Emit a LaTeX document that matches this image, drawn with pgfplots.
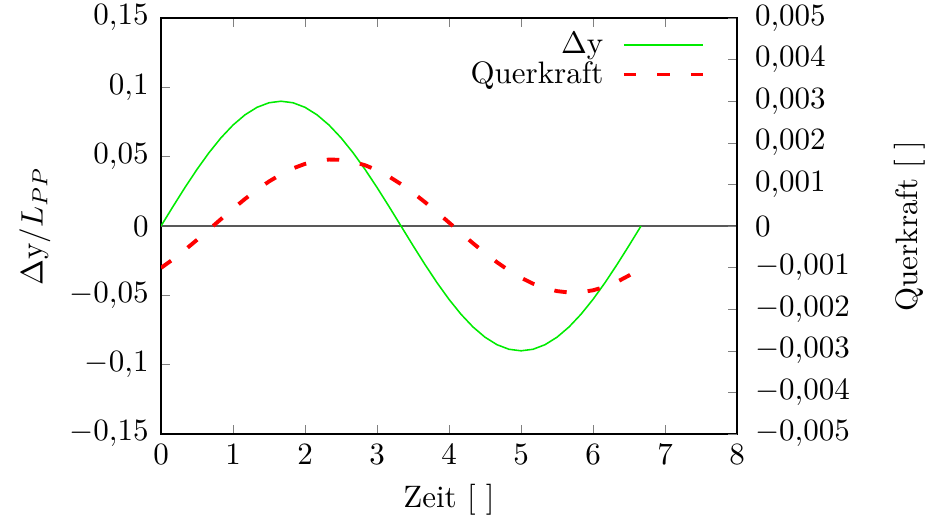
\documentclass[border=0pt]{standalone}
\usepackage{pgfplots}
\pgfplotsset{compat=1.18}
\begin{document}
\begin{tikzpicture}
\pgfplotsset{
  every axis/.append style={
    width=185.81pt, height=134.19pt, scale only axis,
    xmin=0, xmax=8,
    major tick length=3pt,
    tick align=inside,
    /pgf/number format/use comma,
    /pgf/number format/fixed,
    scaled y ticks=false,
  },
  leg/.style={legend image code/.code={\draw[##1] (0cm,0cm) -- (0.9cm,0cm);}},
}
\begin{axis}[
  at={(0,0)}, anchor=south west,
  ymin=-0.15, ymax=0.15,
  ytick={-0.15,-0.1,-0.05,0,0.05,0.1,0.15},
  /pgf/number format/precision=2,
  xtick={0,1,...,8},
  ytick pos=left,
  xtick pos=both,
  xlabel={Zeit [ ]},
  ylabel={$\Delta$y$/L_{PP}$},
  xlabel style={at={(axis description cs:0.5,-0.159)}, anchor=center},
  ylabel style={at={(axis description cs:-0.219,0.5)}, anchor=center, rotate=0},
  yticklabel style={xshift=-0.5pt},
]
\addplot[black!65, line width=0.35pt, forget plot] coordinates {(0,0) (8,0)};
\addplot[color={rgb,255:red,0;green,235;blue,0}, line width=0.5pt] table {
t y
0 0
0.16667 0.01408
0.33333 0.02781
0.5 0.04086
0.66667 0.05290
0.83333 0.06364
1 0.07281
1.16667 0.08019
1.33333 0.08560
1.5 0.08889
1.66667 0.09
1.83333 0.08889
2 0.08560
2.16667 0.08019
2.33333 0.07281
2.5 0.06364
2.66667 0.05290
2.83333 0.04086
3 0.02781
3.16667 0.01408
3.33333 0
3.5 -0.01408
3.66667 -0.02781
3.83333 -0.04086
4 -0.05290
4.16667 -0.06364
4.33333 -0.07281
4.5 -0.08019
4.66667 -0.08560
4.83333 -0.08889
5 -0.09
5.16667 -0.08889
5.33333 -0.08560
5.5 -0.08019
5.66667 -0.07281
5.83333 -0.06364
6 -0.05290
6.16667 -0.04086
6.33333 -0.02781
6.5 -0.01408
6.66667 0
};
\end{axis}
\begin{axis}[
  at={(0,0)}, anchor=south west,
  ymin=-0.005, ymax=0.005,
  ytick={-0.005,-0.004,-0.003,-0.002,-0.001,0,0.001,0.002,0.003,0.004,0.005},
  /pgf/number format/precision=3,
  axis y line*=right,
  axis x line=none,
  yticklabel style={xshift=2.3pt},
  ylabel={Querkraft [ ]},
  ylabel style={at={(axis description cs:1.30,0.5)}, anchor=center, rotate=0},
  legend style={at={(axis description cs:0.962,0.997)}, anchor=north east, draw=none, fill=none,
    legend cell align=right, row sep=-3pt, column sep=4pt},
  legend plot pos=right,
  leg,
]
\addlegendimage{color={rgb,255:red,0;green,235;blue,0}, line width=0.5pt}
\addlegendentry{$\Delta$y}
\addplot[red, line width=1.25pt, dash pattern=on 4pt off 6.8pt] table {
t q
0 -0.001007
0.16667 -0.0008
0.33333 -0.000573
0.5 -0.000333
0.66667 -0.0000837
0.83333 0.000167
1 0.000414
1.16667 0.000651
1.33333 0.000871
1.5 0.001071
1.66667 0.001243
1.83333 0.001386
2 0.001494
2.16667 0.001565
2.33333 0.001598
2.5 0.001591
2.66667 0.001545
2.83333 0.001462
3 0.001342
3.16667 0.001189
3.33333 0.001007
3.5 0.0008
3.66667 0.000573
3.83333 0.000333
4 0.0000837
4.16667 -0.000167
4.33333 -0.000414
4.5 -0.000651
4.66667 -0.000871
4.83333 -0.001071
5 -0.001243
5.16667 -0.001386
5.33333 -0.001494
5.5 -0.001565
5.66667 -0.001598
5.83333 -0.001591
6 -0.001545
6.16667 -0.001462
6.33333 -0.001342
6.5 -0.001189
6.66667 -0.001007
};
\addlegendentry{Querkraft}
\end{axis}
\pgfresetboundingbox
\path (-51.94pt,-29.68pt) rectangle (248.06pt,140.0pt);
\end{tikzpicture}
\end{document}
